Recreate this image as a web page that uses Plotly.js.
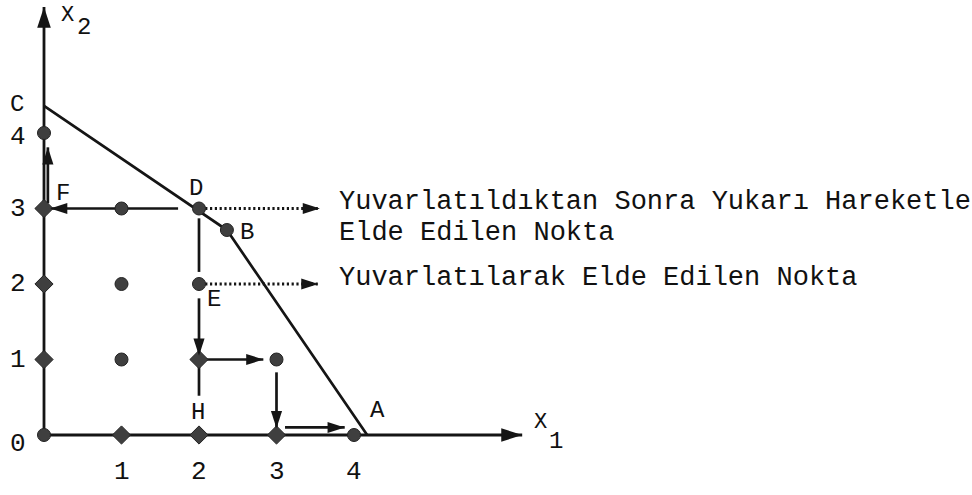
<!DOCTYPE html>
<html>
<head>
<meta charset="utf-8">
<script src="https://cdn.plot.ly/plotly-3.0.1.min.js"></script>
<style>
  html, body { margin: 0; padding: 0; background: #ffffff; }
  #chart { width: 972px; height: 495px; }
</style>
</head>
<body>
<div id="chart"></div>
<script>
// Tick values on the two axes
const ticksX = [1, 2, 3, 4];
const ticksY = [0, 1, 2, 3, 4];

// Feasible region boundary C -> B -> A
const boundaryX = [0, 2.36, 4.17];
const boundaryY = [4.36, 2.715, 0];

// Integer lattice points drawn as round dots
const dotX = [0, 0, 1, 1, 1, 2, 2, 3, 4];
const dotY = [4, 0, 3, 2, 1, 3, 2, 1, 0];

// Lattice points sitting on lines, drawn as diamonds
const diamondX = [0, 0, 0, 1, 2, 3, 2];
const diamondY = [3, 2, 1, 0, 0, 0, 1];

// Continuous optimum B
const cornerX = [2.36];
const cornerY = [2.715];

// Coordinate axes (origin -> arrow tip)
const axisFromX = [0, 0];
const axisFromY = [0, 0];
const axisToX = [0, 6.17];
const axisToY = [5.67, 0];

// Solid search-path arrows (start -> tip)
const arrowFromX = [1.73, 0.05, 2, 2.05, 3, 3.11];
const arrowFromY = [3, 3.07, 1.81, 1, 0.83, 0.1];
const arrowToX = [0.08, 0.05, 2, 2.83, 3, 3.88];
const arrowToY = [3, 3.81, 1.05, 1, 0.09, 0.1];

// Plain segments of the vertical path D -> E -> H
const segFromX = [2, 2];
const segFromY = [2.87, 1.0];
const segToX = [2, 2];
const segToY = [2.16, 0.52];

// Dotted pointers to the notes
const pointerFromX = [2.08, 2.08];
const pointerFromY = [3, 2];
const pointerToX = [3.56, 3.54];
const pointerToY = [3, 2];

// Point names
const pointNames = ['C', 'D', 'F', 'B', 'E', 'H', 'A'];
const pointNameX = [-0.35, 1.96, 0.245, 2.62, 2.19, 1.99, 4.30];
const pointNameY = [4.38, 3.27, 3.2, 2.68, 1.79, 0.30, 0.32];

// Notes
const noteLines = [
  'Yuvarlatıldıktan Sonra Yukarı Hareketle',
  'Elde Edilen Nokta',
  'Yuvarlatılarak Elde Edilen Nokta'
];
const noteX = 3.78;
const noteY = [3.086, 2.67, 2.08];

// Axis names: main letter and its index
const axisNames = [
  { main: 'X', sub: '2', x: 0.30, y: 5.75, sx: 0.51, sy: 5.40, top: true },
  { main: 'X', sub: '1', x: 6.40, y: 0.16, sx: 6.60, sy: -0.09, top: false }
];

const INK = '#151515';
const DOT = '#3f3f3f';
const TEXT = '#111111';
const FONT = 'Liberation Mono, Courier New, monospace';

function segments(x0, y0, x1, y1) {
  const xs = [], ys = [];
  for (let i = 0; i < x0.length; i++) {
    xs.push(x0[i], x1[i], null);
    ys.push(y0[i], y1[i], null);
  }
  return { xs, ys };
}
// marker angle measured clockwise from "up"
function headAngles(x0, y0, x1, y1) {
  return x0.map((_, i) => Math.atan2(x1[i] - x0[i], y1[i] - y0[i]) * 180 / Math.PI);
}

const traces = [];

// axes
const ax = segments(axisFromX, axisFromY, axisToX, axisToY);
traces.push({ x: ax.xs, y: ax.ys, mode: 'lines', line: { color: INK, width: 2.8 }, hoverinfo: 'skip' });
traces.push({
  x: axisToX, y: axisToY, mode: 'markers', hoverinfo: 'skip',
  marker: { symbol: 'arrow', size: 22, color: INK, line: { width: 0 },
            angle: headAngles(axisFromX, axisFromY, axisToX, axisToY) }
});

// boundary
traces.push({ x: boundaryX, y: boundaryY, mode: 'lines', line: { color: INK, width: 2.7 }, hoverinfo: 'skip' });

// plain path segments
const sg = segments(segFromX, segFromY, segToX, segToY);
traces.push({ x: sg.xs, y: sg.ys, mode: 'lines', line: { color: INK, width: 2.7 }, hoverinfo: 'skip' });

// solid arrows
const ar = segments(arrowFromX, arrowFromY, arrowToX, arrowToY);
traces.push({ x: ar.xs, y: ar.ys, mode: 'lines', line: { color: INK, width: 2.7 }, hoverinfo: 'skip' });

// dotted pointers
const pt = segments(pointerFromX, pointerFromY, pointerToX, pointerToY);
traces.push({ x: pt.xs, y: pt.ys, mode: 'lines', line: { color: INK, width: 3.2, dash: '2.2px,2.6px' }, hoverinfo: 'skip' });

// lattice dots
traces.push({
  x: dotX, y: dotY, mode: 'markers', hoverinfo: 'skip',
  marker: { symbol: 'circle', size: 13, color: DOT, line: { color: '#222222', width: 1 } }
});
traces.push({
  x: diamondX, y: diamondY, mode: 'markers', hoverinfo: 'skip',
  marker: { symbol: 'diamond', size: 14, color: DOT, line: { color: '#222222', width: 1 } }
});
traces.push({
  x: cornerX, y: cornerY, mode: 'markers', hoverinfo: 'skip',
  marker: { symbol: 'circle', size: 13, color: DOT, line: { color: '#222222', width: 1 } }
});

// arrow heads on top
traces.push({
  x: arrowToX, y: arrowToY, mode: 'markers', hoverinfo: 'skip',
  marker: { symbol: 'arrow', size: 18, color: INK, line: { width: 0 },
            angle: headAngles(arrowFromX, arrowFromY, arrowToX, arrowToY) }
});
traces.push({
  x: pointerToX, y: pointerToY, mode: 'markers', hoverinfo: 'skip',
  marker: { symbol: 'arrow', size: 18, color: INK, line: { width: 0 },
            angle: headAngles(pointerFromX, pointerFromY, pointerToX, pointerToY) }
});

const annotations = [];
const txt = (text, x, y, size, opts) => Object.assign({
  text, x, y, xref: 'x', yref: 'y', showarrow: false,
  font: { family: FONT, size, color: TEXT }
}, opts || {});

ticksX.forEach(v => annotations.push(txt(String(v), v, -0.49, 26)));
ticksY.forEach(v => annotations.push(
  txt(String(v), -0.34, v, 26, { yshift: v === 0 ? -9 : (v === 4 ? -4 : 0) })
));
pointNames.forEach((n, i) => annotations.push(txt(n, pointNameX[i], pointNameY[i], 24)));
axisNames.forEach(a => {
  annotations.push(txt(a.main, a.x, a.y, 22, a.top ? { yanchor: 'top' } : {}));
  annotations.push(txt(a.sub, a.sx, a.sy, 24));
});
noteLines.forEach((s, i) => annotations.push(txt(s, noteX, noteY[i], 27, { xanchor: 'left', align: 'left' })));

const layout = {
  width: 972, height: 495,
  margin: { l: 0, r: 0, t: 0, b: 0 },
  paper_bgcolor: '#ffffff', plot_bgcolor: '#ffffff',
  showlegend: false,
  xaxis: { range: [-0.5677, 11.974], visible: false, fixedrange: true },
  yaxis: { range: [-0.7947, 5.7616], visible: false, fixedrange: true },
  annotations
};

Plotly.newPlot('chart', traces, layout, { staticPlot: true, displayModeBar: false });
</script>
</body>
</html>
